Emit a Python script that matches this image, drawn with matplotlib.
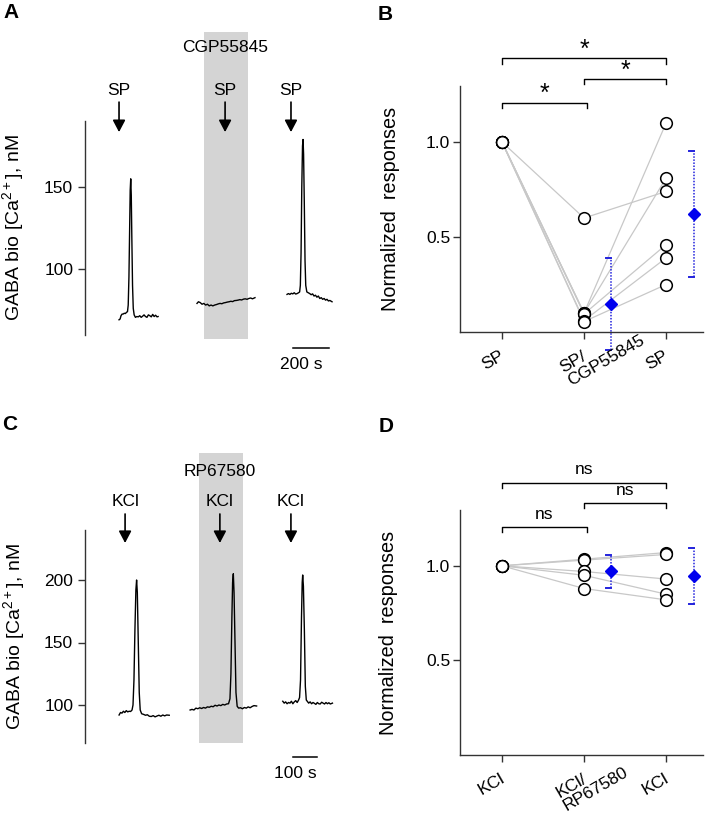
import numpy as np
import matplotlib
matplotlib.use('Agg')
import matplotlib.pyplot as plt
from matplotlib import transforms

plt.rcParams['font.family'] = ['Liberation Sans', 'DejaVu Sans']
plt.rcParams['mathtext.fontset'] = 'custom'
plt.rcParams['mathtext.rm'] = 'Liberation Sans'
plt.rcParams['mathtext.default'] = 'regular'

# ---- data ----
# panel A: GABA biosensor traces (time in s, [Ca2+] in nM)
a_t1 = [189, 195, 200, 206, 212, 218, 224, 230, 236, 240, 244, 248, 251, 254, 257, 260, 264, 268, 273, 280,
        288, 296, 304, 312, 320, 328, 336, 344, 352, 360, 368, 376, 384, 392, 400, 406]
a_v1 = [69, 69.5, 71.5, 72.5, 72.5, 73, 72.8, 73.5, 74, 78, 95, 125, 148, 155, 145, 120, 90, 76, 72, 70.5,
        71, 70.8, 71.5, 70.5, 71.2, 72, 71, 70.5, 72, 71.5, 70.8, 72.3, 71, 71.8, 70.8, 71]
a_t2 = [622, 630, 640, 650, 660, 670, 680, 690, 700, 710, 720, 730, 740, 750, 760, 770, 780, 790, 800, 810,
        820, 830, 840, 850, 860, 870, 880, 890, 900, 910, 920, 930, 944]
a_v2 = [79, 80, 79.5, 78.5, 79, 78, 78.5, 77.5, 78, 77.5, 78, 78.3, 78.7, 79, 78.8, 79.3, 79.5, 79.8, 80, 80.3,
        80.1, 80.7, 80.8, 81, 81.3, 81.1, 81.6, 81.8, 81.5, 82, 82.3, 81.8, 82.5]
a_t3 = [1122, 1130, 1138, 1146, 1154, 1162, 1170, 1178, 1186, 1192, 1196, 1200, 1204, 1208, 1211, 1214, 1218,
        1222, 1226, 1232, 1240, 1248, 1256, 1264, 1272, 1280, 1288, 1296, 1304, 1312, 1320, 1328, 1336, 1344,
        1352, 1360, 1372]
a_v3 = [84.5, 85, 84.5, 85.2, 84.8, 85.5, 84.7, 85, 85.5, 86, 90, 110, 150, 175, 179, 170, 140, 105, 90, 86,
        85.5, 85, 84.3, 84.8, 83.5, 84, 82.8, 83.5, 82, 82.5, 81.5, 82, 81, 81.5, 80.5, 80.8, 80]
a_stim = [189, 778, 1144]
a_drug = (661, 906)

# panel C: KCl traces
c_t1 = [142, 148, 154, 160, 166, 172, 178, 184, 190, 196, 200, 204, 208, 212, 215, 218, 222, 226, 230, 236,
        244, 252, 260, 268, 276, 284, 292, 300, 308, 316, 324, 332, 340, 351]
c_v1 = [92, 94, 93.5, 95, 94, 95.5, 94.5, 95, 94.8, 96, 100, 120, 160, 192, 200, 190, 150, 110, 96, 93,
        92.5, 91.8, 92.2, 91, 90.8, 91.5, 90.5, 91.2, 91.8, 91, 92, 91.3, 92, 91.8]
c_t2 = [438, 446, 454, 462, 470, 478, 486, 494, 502, 510, 518, 526, 534, 542, 550, 558, 566, 574, 582, 590,
        598, 604, 608, 612, 615, 618, 621, 625, 629, 634, 640, 648, 656, 664, 672, 680, 688, 696, 704, 715]
c_v2 = [96, 96.5, 96, 97.5, 97, 97.8, 97.2, 98, 97.5, 98.5, 98.2, 99, 98.6, 99.8, 99.2, 100, 99.5, 100.5, 100, 100.8,
        101, 105, 125, 170, 198, 205, 190, 150, 110, 99, 97.5, 97.8, 97, 98, 97.5, 98.5, 97.8, 98.8, 99.5, 99.2]
c_t3 = [824, 830, 836, 842, 848, 854, 860, 866, 872, 878, 884, 890, 894, 898, 902, 905, 907, 910, 914, 918,
        922, 926, 932, 938, 944, 950, 956, 962, 968, 974, 980, 986, 992, 998, 1004, 1010, 1016, 1022, 1031]
c_v3 = [103, 101.5, 102.5, 101, 102, 101.5, 103, 101, 102.5, 103.5, 102, 104, 106, 120, 170, 198, 204, 195, 160, 115,
        104, 103, 101.5, 102.5, 101, 102, 101.3, 100.5, 102, 101, 100.8, 102.2, 101.5, 100.8, 102, 101, 101.8, 100.8, 101.5]
c_stim = [167, 562, 858]
c_drug = (475, 658)

# panel B: normalized responses per cell (SP, SP/CGP55845, SP wash)
b_sp = [1.0, 1.0, 1.0, 1.0, 1.0, 1.0]
b_cgp = [0.60, 0.10, 0.10, 0.095, 0.06, 0.055]
b_wash = [0.74, 1.10, 0.81, 0.46, 0.39, 0.25]
b_mean = [0.146, 0.62]
b_err = [0.242, 0.333]
b_labels = ['SP', 'SP/\nCGP55845', 'SP']
b_sig = ['*', '*', '*']

# panel D: KCl, KCl/RP67580, KCl wash
d_kcl = [1.0, 1.0, 1.0, 1.0, 1.0]
d_rp = [1.035, 1.03, 0.97, 0.95, 0.88]
d_wash = [1.07, 1.06, 0.93, 0.85, 0.82]
d_mean = [0.970, 0.947]
d_err = [0.085, 0.149]
d_labels = ['KCl', 'KCl/\nRP67580', 'KCl']
d_sig = ['ns', 'ns', 'ns']

W, H = 709, 815
fig = plt.figure(figsize=(W / 100, H / 100), dpi=100)


def box(x0, y0, x1, y1):
    # pixel box with top-left origin -> figure rect
    return [x0 / W, 1 - y1 / H, (x1 - x0) / W, (y1 - y0) / H]


def ftext(x, y, s, **kw):
    fig.text(x / W, 1 - y / H, s, **kw)


def trace_panel(rect, ylim, xlim, bounds, yticks, traces, stim, stim_lab, drug, drug_lab,
                shade_y, lab_y, arr_y, drug_y, bar, bar_y, bar_lab, bar_txt):
    ax = fig.add_axes(rect)
    ax.set_xlim(*xlim)
    ax.set_ylim(*ylim)
    for s in ['top', 'right', 'bottom']:
        ax.spines[s].set_visible(False)
    ax.spines['left'].set_bounds(*bounds)
    ax.spines['left'].set_color('#333333')
    ax.spines['left'].set_linewidth(1.0)
    ax.set_xticks([])
    ax.set_yticks(yticks)
    ax.tick_params(axis='y', length=5, width=1, color='#333333', pad=3.5, labelsize=12.5)
    ax.patch.set_visible(False)

    ax.fill_between(drug, shade_y[0], shade_y[1], color='#d4d4d4', lw=0, zorder=0)
    for t, v in traces:
        ax.plot(t, v, color='k', lw=1.0, zorder=2)
    for x in stim:
        ax.text(x, lab_y, stim_lab, ha='center', va='center', fontsize=12.5)
        ax.annotate('', xy=(x, arr_y[1]), xytext=(x, arr_y[0]),
                    arrowprops=dict(arrowstyle='-|>,head_length=0.36,head_width=0.19',
                                    mutation_scale=20, lw=1.2, color='k',
                                    shrinkA=0, shrinkB=0))
    ax.text(stim[1], drug_y, drug_lab, ha='center', va='center', fontsize=12.5)
    ax.plot(bar, [bar_y, bar_y], color='k', lw=1.1, clip_on=False)
    ax.text(bar_txt[0], bar_txt[1], bar_lab, ha='center', va='center', fontsize=12.5)
    return ax


trace_panel(box(85, 28, 345, 378), (33.5, 247.0), (0, 1444), (60, 190), [100, 150],
            [(a_t1, a_v1), (a_t2, a_v2), (a_t3, a_v3)], a_stim, 'SP', a_drug, 'CGP55845',
            (57.3, 244.5), 209.1, (201.8, 183.5), 234.8,
            (1156, 1356), 51.8, '200 s', (1203, 41.5))

trace_panel(box(85, 448, 345, 790), (32, 305.6), (0, 1083.3), (70, 240), [100, 150, 200],
            [(c_t1, c_v1), (c_t2, c_v2), (c_t3, c_v3)], c_stim, 'KCl', c_drug, 'RP67580',
            (69.6, 301.6), 262.4, (252.8, 229.6), 286.4,
            (867, 967), 58.4, '100 s', (875, 44.8))


def paired_panel(rect, cells, means, errs, labels, sig, ns_text):
    ax = fig.add_axes(rect)
    pos = [0, 1, 2]
    ax.set_xlim(-0.512, 2.45)
    ax.set_ylim(0, 1.295)
    for s in ['top', 'right']:
        ax.spines[s].set_visible(False)
    for s in ['left', 'bottom']:
        ax.spines[s].set_color('#333333')
        ax.spines[s].set_linewidth(1.0)
    ax.set_yticks([0.5, 1.0])
    ax.set_yticklabels(['0.5', '1.0'])
    ax.set_xticks(pos)
    ax.set_xticklabels([])
    ax.tick_params(length=5, width=1, color='#333333', pad=2, labelsize=12.5)
    ax.patch.set_visible(False)

    vals = np.array(cells).T
    for row in vals:
        ax.plot(pos, row, color='#c8c8c8', lw=0.9, zorder=1)
    for p, col in zip(pos, cells):
        ax.plot([p] * len(col), col, 'o', mfc='white', mec='k', ms=8.4, mew=1.1,
                zorder=3, clip_on=False)

    # mean +/- SD, dotted bars with left-side caps
    mx = [1.33, 2.34]
    for x, m, e in zip(mx, means, errs):
        ax.plot([x, x], [m - e, m + e], color='#2222dd', lw=1.1, ls=(0, (1, 1)),
                clip_on=False, zorder=2)
        for yy in (m - e, m + e):
            ax.plot([x - 0.065, x], [yy, yy], color='#2222dd', lw=1.4, clip_on=False, zorder=2)
        ax.plot(x, m, 'D', color='#0000ee', ms=6.3, mec='#0000ee', clip_on=False, zorder=4)

    # significance brackets
    pairs = [(0, 1.03), (1, 2), (0, 2)]
    ys = [1.205, 1.33, 1.44]
    for (x0, x1), yb, s in zip(pairs, ys, sig):
        ax.plot([x0, x0, x1, x1], [yb - 0.027, yb, yb, yb - 0.027], color='k', lw=1.0,
                clip_on=False)
        if ns_text:
            ax.text((x0 + x1) / 2, yb + 0.045, s, ha='center', va='baseline', fontsize=12.5)
        else:
            ax.text((x0 + x1) / 2, yb + 0.01, s, ha='center', va='baseline', fontsize=18)

    # rotated category labels
    r = fig.canvas.get_renderer()
    ang = np.deg2rad(30)
    for p, lab in zip(pos, labels):
        first = lab.split('\n')[0]
        tmp = ax.text(0, 0, first, fontsize=12.5)
        wpt = tmp.get_window_extent(r).width * 72 / fig.dpi
        tmp.remove()
        if '\n' in lab:
            tr = transforms.offset_copy(ax.transData, fig=fig, x=-wpt * np.cos(ang),
                                        y=-wpt * np.sin(ang), units='points')
            ax.text(p - 0.03, -0.085, lab, ha='left', va='top', rotation=30,
                    rotation_mode='anchor', multialignment='left', fontsize=12.5,
                    linespacing=1.0, transform=tr, clip_on=False)
        else:
            ax.text(p - 0.03, -0.085, lab, ha='right', va='top', rotation=30,
                    rotation_mode='anchor', fontsize=12.5, clip_on=False)
    return ax


paired_panel(box(460, 86, 703, 332), [b_sp, b_cgp, b_wash], b_mean, b_err, b_labels, b_sig, False)
paired_panel(box(460, 510, 703, 755), [d_kcl, d_rp, d_wash], d_mean, d_err, d_labels, d_sig, True)

# y labels and panel letters
ftext(13, 228, 'GABA bio [Ca$^{2+}$], nM', rotation=90, ha='center', va='center', fontsize=14)
ftext(14, 637, 'GABA bio [Ca$^{2+}$], nM', rotation=90, ha='center', va='center', fontsize=14)
ftext(390, 209, 'Normalized  responses', rotation=90, ha='center', va='center', fontsize=14.3)
ftext(388, 633, 'Normalized  responses', rotation=90, ha='center', va='center', fontsize=14.3)
for x, y, s in [(11, 12, 'A'), (385, 14, 'B'), (10, 424, 'C'), (386, 426, 'D')]:
    ftext(x, y, s, ha='center', va='center', fontsize=15, fontweight='bold')

fig.savefig('out.png', dpi=100)
